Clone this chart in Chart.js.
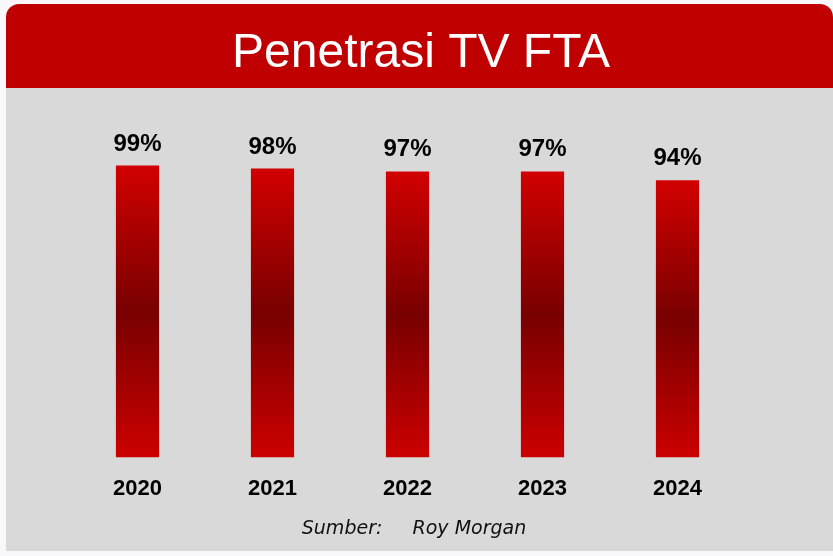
<!DOCTYPE html>
<html lang="id">
<head>
    <meta charset="UTF-8">
    <script src="https://cdn.jsdelivr.net/npm/chart.js"></script>
    <title>Penetrasi TV FTA</title>
    <style>
      html, body { margin: 0; padding: 0; background: #f8f8fb; }
      #wrap { width: 833px; height: 556px; }
    </style>
</head>
<body>
    <div id="wrap">
      <canvas id="myChart" width="833" height="556"></canvas>
    </div>
    <script>
      // data
      const years = ['2020', '2021', '2022', '2023', '2024'];
      const penetration = [99, 98, 97, 97, 94];
      const chartTitle = 'Penetrasi TV FTA';
      const sourceNote = 'Sumber:     Roy Morgan';

      const ctx = document.getElementById('myChart');

      // grey panel with red rounded header behind the chart
      const panelPlugin = {
        id: 'panel',
        beforeDraw(chart) {
          const c = chart.ctx;
          c.save();
          c.fillStyle = '#f8f8fb';
          c.fillRect(0, 0, chart.width, chart.height);
          c.fillStyle = '#d9d9d9';
          c.fillRect(6, 88, chart.width - 6, 463);
          c.fillStyle = '#c00000';
          c.beginPath();
          c.roundRect(6, 4, chart.width - 6, 84, [13, 13, 0, 0]);
          c.fill();
          c.restore();
        }
      };

      // percent labels over the bars and the source line
      const labelPlugin = {
        id: 'barLabels',
        afterDatasetsDraw(chart) {
          const c = chart.ctx;
          const meta = chart.getDatasetMeta(0);
          c.save();
          c.fillStyle = '#000';
          c.font = 'bold 24px "Liberation Sans", Arial, sans-serif';
          c.textAlign = 'center';
          c.textBaseline = 'alphabetic';
          meta.data.forEach((bar, i) => {
            c.fillText(penetration[i] + '%', bar.x, bar.y - 15);
          });
          c.font = 'italic 19px "DejaVu Sans", Verdana, sans-serif';
          c.fillStyle = '#111';
          c.fillText(sourceNote, 414, 534);
          c.restore();
        }
      };

      function barGradient(context) {
        const chart = context.chart;
        if (!chart.chartArea) return '#c00000';
        const y = chart.scales.y;
        const top = y.getPixelForValue(context.raw);
        const bottom = y.getPixelForValue(0);
        const g = chart.ctx.createLinearGradient(0, top, 0, bottom);
        g.addColorStop(0, '#d20000');
        g.addColorStop(0.5, '#780000');
        g.addColorStop(1, '#cc0000');
        return g;
      }

      new Chart(ctx, {
        type: 'bar',
        data: {
          labels: years,
          datasets: [{
            data: penetration,
            backgroundColor: barGradient,
            borderWidth: 0,
            barPercentage: 0.32,
            categoryPercentage: 1
          }]
        },
        plugins: [panelPlugin, labelPlugin],
        options: {
          responsive: false,
          animation: false,
          layout: { padding: { left: 9, right: 0, top: 0, bottom: 44 } },
          plugins: {
            legend: { display: false },
            tooltip: { enabled: false },
            title: {
              display: true,
              text: chartTitle,
              color: '#ffffff',
              font: { family: '"Liberation Sans", Arial, sans-serif', size: 48, weight: 'normal', lineHeight: 1.2 },
              padding: { top: 25, bottom: 80 }
            }
          },
          scales: {
            x: {
              grid: { display: false },
              border: { display: false },
              ticks: {
                color: '#000',
                padding: 10,
                font: { family: '"Liberation Sans", Arial, sans-serif', size: 22, weight: 'bold', lineHeight: 1.2 }
              }
            },
            y: {
              min: 0,
              max: 100,
              grid: { display: false },
              border: { display: false },
              ticks: { display: false },
              afterFit(scale) { scale.width = 61; }
            },
            yRight: {
              position: 'right',
              grid: { display: false },
              border: { display: false },
              ticks: { display: false },
              afterFit(scale) { scale.width = 88; }
            }
          }
        }
      });
    </script>
</body>
</html>
